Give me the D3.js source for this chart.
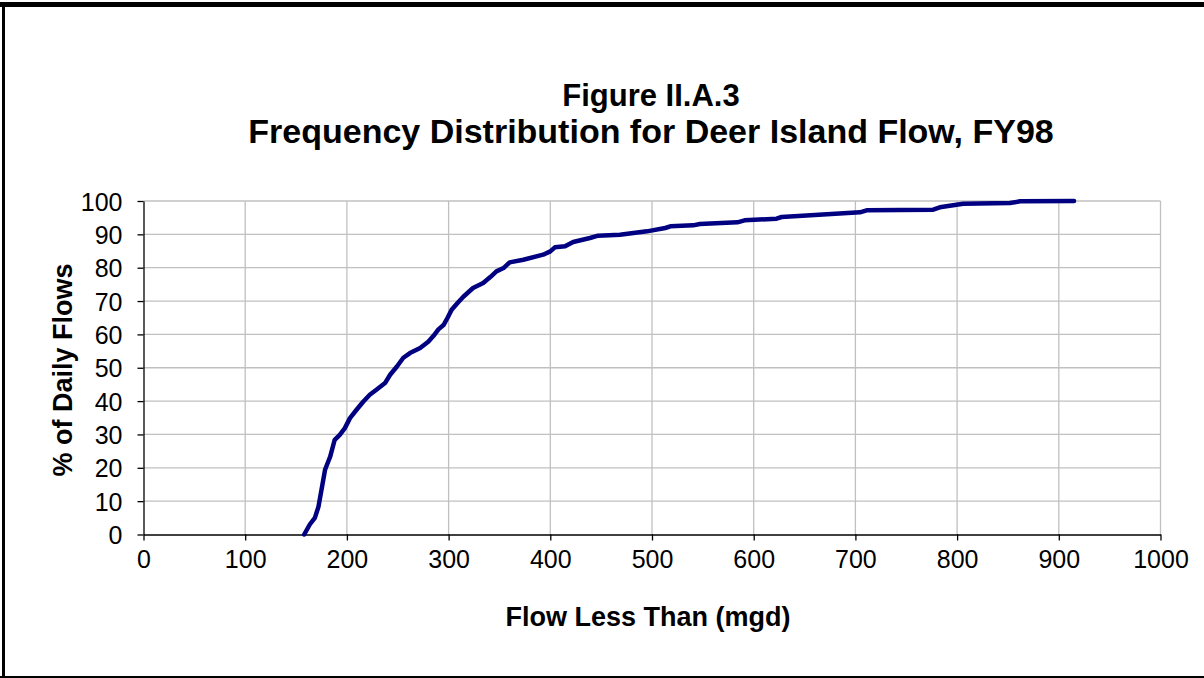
<!DOCTYPE html>
<html>
<head>
<meta charset="utf-8">
<script src="https://cdn.jsdelivr.net/npm/d3@7"></script>
<style>
  body { margin: 0; background: #fff; }
  text { font-family: Arial, "Liberation Sans", sans-serif; }
</style>
</head>
<body>
<svg id="chart" width="1204" height="678"></svg>
<script>
// Data - cumulative % of daily flows vs flow (mgd)
let flowMgd = [158, 163.5, 168.5, 172, 175, 178.5, 183.5, 188, 193, 198, 203, 209.5, 216, 222.5, 229, 237.5,
    242.5, 249, 255.5, 262, 272, 280, 285, 290, 295, 299, 303, 309, 314.5, 324, 334, 341, 347, 354, 360,
    373.5, 393, 400, 404.5, 414.5, 422.5, 439, 447, 468.5, 495, 513, 518, 540.5, 547, 584, 591, 622.5,
    627.5, 660, 704.5, 711, 776.5, 783, 806, 852, 862, 915]
let pctFlows = [0, 3, 5, 8.3, 13.4, 19.4, 23.3, 28.4, 29.9, 31.9, 34.9, 37.4, 39.8, 41.9, 43.4, 45.4,
    47.9, 50.3, 53, 54.4, 55.9, 57.8, 59.5, 61.5, 62.8, 65, 67.4, 69.5, 71.3, 73.9, 75.4, 77.2, 78.9, 79.9, 81.6,
    82.4, 83.9, 84.9, 86.1, 86.4, 87.7, 88.9, 89.6, 89.9, 90.9, 91.9, 92.4, 92.7, 93.1, 93.6, 94.2, 94.7,
    95.2, 95.8, 96.6, 97.2, 97.4, 98.1, 99.2, 99.4, 99.9, 100]
let xTicks = [0, 100, 200, 300, 400, 500, 600, 700, 800, 900, 1000]
let yTicks = [0, 10, 20, 30, 40, 50, 60, 70, 80, 90, 100]
let titleLines = ["Figure II.A.3", "Frequency Distribution for Deer Island Flow, FY98"]

let svg = d3.select("#chart")

// outer frame
svg.append("line").attr("x1", 0).attr("x2", 1204).attr("y1", 4.5).attr("y2", 4.5)
    .attr("stroke", "#000").attr("stroke-width", 5)
svg.append("line").attr("x1", 3.5).attr("x2", 3.5).attr("y1", 2).attr("y2", 678)
    .attr("stroke", "#000").attr("stroke-width", 3)
svg.append("line").attr("x1", 0).attr("x2", 1204).attr("y1", 677).attr("y2", 677)
    .attr("stroke", "#000").attr("stroke-width", 2)

let plotLeft = 143.5, plotRight = 1160.5, plotTop = 201, plotBottom = 534.5

let x = d3.scaleLinear().domain([0, 1000]).range([plotLeft, plotRight])
let y = d3.scaleLinear().domain([0, 100]).range([plotBottom, plotTop])

// gridlines
svg.append("g").selectAll("line")
    .data(xTicks.slice(1))
    .join("line")
    .attr("x1", d => x(d)).attr("x2", d => x(d))
    .attr("y1", plotTop).attr("y2", plotBottom)
    .attr("stroke", "#c0c0c0").attr("stroke-width", 1.3)
svg.append("g").selectAll("line")
    .data(yTicks.slice(1))
    .join("line")
    .attr("x1", plotLeft).attr("x2", plotRight)
    .attr("y1", d => y(d)).attr("y2", d => y(d))
    .attr("stroke", "#c0c0c0").attr("stroke-width", 1.3)

// axes
let xAxis = svg.append("g")
    .attr("transform", `translate(0,${plotBottom})`)
    .call(d3.axisBottom(x).tickValues(xTicks).tickFormat(d3.format("d"))
        .tickSize(6).tickPadding(10).tickSizeOuter(0))
let yAxis = svg.append("g")
    .attr("transform", `translate(${plotLeft},0)`)
    .call(d3.axisLeft(y).tickValues(yTicks).tickFormat(d3.format("d"))
        .tickSize(6).tickPadding(15).tickSizeOuter(0))

;[xAxis, yAxis].forEach(a => {
    a.select(".domain").attr("stroke", "#000").attr("stroke-width", 1.3)
    a.selectAll(".tick line").attr("stroke", "#000").attr("stroke-width", 1.3)
    a.selectAll(".tick text").attr("fill", "#000")
        .style("font-size", "25px")
        .style("font-family", "Arial, 'Liberation Sans', sans-serif")
})
xAxis.selectAll(".tick text").attr("dy", "0.71em")
yAxis.selectAll(".tick text").attr("dy", "0.36em")

// data line
let line = d3.line()
    .x(d => x(d[0]))
    .y(d => y(d[1]))
let pts = flowMgd.map((f, i) => [f, pctFlows[i]])
svg.append("path")
    .datum(pts)
    .attr("d", line)
    .attr("fill", "none")
    .attr("stroke", "#000080")
    .attr("stroke-width", 4.5)
    .attr("stroke-linejoin", "round")
    .attr("stroke-linecap", "round")

// titles
svg.selectAll("text.title")
    .data(titleLines)
    .join("text")
    .attr("class", "title")
    .attr("x", 651)
    .attr("y", (d, i) => i == 0 ? 106 : 143)
    .attr("text-anchor", "middle")
    .attr("font-weight", "bold")
    .attr("font-size", (d, i) => i == 0 ? 31 : 34)
    .text(d => d)

svg.append("text")
    .attr("x", 648).attr("y", 626)
    .attr("text-anchor", "middle")
    .attr("font-weight", "bold")
    .attr("font-size", 27)
    .text("Flow Less Than (mgd)")

svg.append("text")
    .attr("transform", "translate(72,370) rotate(-90)")
    .attr("text-anchor", "middle")
    .attr("font-weight", "bold")
    .attr("font-size", 27)
    .text("% of Daily Flows")
</script>
</body>
</html>
